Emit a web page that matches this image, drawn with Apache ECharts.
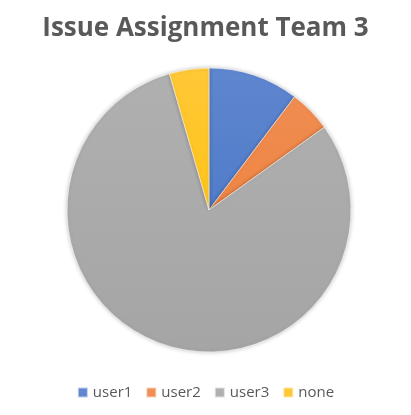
<!DOCTYPE html>
<html>
<head>
<meta charset="utf-8">
<script src="https://cdn.jsdelivr.net/npm/echarts@6/dist/echarts.min.js"></script>
<style>
  html, body { margin: 0; padding: 0; background: #fff; }
  #main { width: 411px; height: 415px; }
</style>
</head>
<body>
<div id="main"></div>
<script>
// 数据
const categories = ['user1', 'user2', 'user3', 'none'];
const shares = [10.3, 4.8, 80.4, 4.5];
const baseColors = ['#4472C4', '#ED7D31', '#A5A5A5', '#FFC000'];
const topColors = ['#5f86cf', '#f08e55', '#b0b0b0', '#ffc836'];

const chart = echarts.init(document.getElementById('main'));

const pieData = categories.map((name, i) => ({
    name: name,
    value: shares[i],
    itemStyle: {
        color: {
            type: 'linear', x: 0, y: 68, x2: 0, y2: 352, global: true,
            colorStops: [
                { offset: 0, color: topColors[i] },
                { offset: 1, color: baseColors[i] }
            ]
        }
    }
}));

chart.setOption({
    backgroundColor: '#fff',
    title: {
        text: 'Issue Assignment Team 3',
        left: 'center',
        top: 11,
        textStyle: {
            fontFamily: 'Open Sans',
            fontWeight: 'bold',
            fontSize: 26,
            color: '#595959'
        }
    },
    legend: {
        data: categories,
        bottom: 10,
        left: 'center',
        icon: 'rect',
        itemWidth: 10,
        itemHeight: 10,
        itemGap: 13,
        textStyle: { fontFamily: 'Open Sans', fontSize: 15, color: '#595959' }
    },
    color: baseColors,
    series: [{
        type: 'pie',
        center: [209, 210],
        radius: 142,
        startAngle: 90,
        clockwise: true,
        label: { show: false },
        labelLine: { show: false },
        emphasis: { disabled: true },
        itemStyle: {
            borderColor: 'rgba(255,255,255,0.6)',
            borderWidth: 0.5,
            shadowBlur: 4,
            shadowColor: 'rgba(0,0,0,0.25)'
        },
        data: pieData
    }]
});
</script>
</body>
</html>
